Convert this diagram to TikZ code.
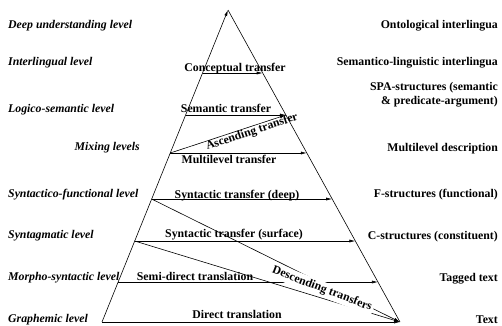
\documentclass[tikz,border=0pt]{standalone}
\usepackage{fontspec}
\setmainfont{Liberation Serif}
\usetikzlibrary{arrows.meta, positioning, calc}

\begin{document}
\begin{tikzpicture}[x=1pt, y=-1pt,
        lvl/.style={font=\bfseries\itshape\fontsize{11.8}{14}\selectfont, inner sep=0pt},
        desc/.style={font=\bfseries\fontsize{11.8}{14}\selectfont, inner sep=0pt, align=right},
        tr/.style={font=\bfseries\fontsize{11.8}{14}\selectfont, inner sep=0pt},
        arr/.style={-{Latex[length=6pt, width=3pt]}, line width=0.6pt}]

    \useasboundingbox (0,0) rectangle (502,325);

    % piramide
    \coordinate (apex) at (228,10);
    \coordinate (bl) at (102,322);
    \coordinate (br) at (400,322);
    \foreach \n/\t in {1/0.2019, 2/0.3365, 3/0.4583, 4/0.6058, 5/0.7404, 6/0.8718} {
        \coordinate (l\n) at ($(apex)!\t!(bl)$);
        \coordinate (r\n) at ($(apex)!\t!(br)$);
    }
    \draw[arr] (bl) -- (apex);
    \draw[line width=0.6pt] (apex) -- (br);

    % niveles
    \node[lvl, anchor=base west] (deep) at (8,28) {Deep understanding level};
    \node[lvl, anchor=base west] (inter) at (8,65) {Interlingual level};
    \node[lvl, anchor=base west] (logic) at (8,112) {Logico-semantic level};
    \node[lvl, anchor=base east] (mix) at (140,150) {Mixing levels};
    \node[lvl, anchor=base west] (synf) at (8,197) {Syntactico-functional level};
    \node[lvl, anchor=base west] (synt) at (8,238) {Syntagmatic level};
    \node[lvl, anchor=base west] (morph) at (8,280) {Morpho-syntactic level};
    \node[lvl, anchor=base west] (graph) at (8,322) {Graphemic level};

    % representaciones
    \node[desc, anchor=base east] (onto) at (498,28) {Ontological interlingua};
    \node[desc, anchor=base east] (seml) at (498,65) {Semantico-linguistic interlingua};
    \node[desc, anchor=base east] (spa) at (498,104) {SPA-structures (semantic\\ \& predicate-argument)};
    \node[desc, anchor=base east] (mdesc) at (498,151) {Multilevel description};
    \node[desc, anchor=base east] (fstr) at (498,197) {F-structures (functional)};
    \node[desc, anchor=base east] (cstr) at (498,239) {C-structures (constituent)};
    \node[desc, anchor=base east] (tag) at (498,281) {Tagged text};
    \node[desc, anchor=base east] (text) at (498,323) {Text};

    % transferencias
    \draw[arr] (l1) -- (r1);
    \draw[arr] (l2) -- (r2);
    \draw[arr] (l3) -- (r3);
    \draw[arr] (l4) -- (r4);
    \draw[arr] (l5) -- (r5);
    \draw[arr] (l6) -- (r6);
    \draw[arr] (l3) -- (r2);
    \draw[arr] (l4) -- (br);
    \draw[arr] (l5) -- (br);
    \draw[arr] (bl) -- (br);

    \node[tr, anchor=base] (conc) at (235,71) {Conceptual transfer};
    \node[tr, anchor=base] (sem) at (226,112) {Semantic transfer};
    \node[tr, anchor=base] (multi) at (229,163) {Multilevel transfer};
    \node[tr, anchor=base] (deeps) at (237,198) {Syntactic transfer (deep)};
    \node[tr, anchor=base] (surf) at (234,237) {Syntactic transfer (surface)};
    \node[tr, anchor=base] (semid) at (195,280) {Semi-direct translation};
    \node[tr, anchor=base] (direct) at (237,318) {Direct translation};
    \node[tr, rotate=18.5] (asc) at (252,132) {Ascending transfer};
    \node[tr, rotate=-21, fill=white, inner sep=2pt] (dsc) at (322,289) {Descending transfers};
\end{tikzpicture}
\end{document}
